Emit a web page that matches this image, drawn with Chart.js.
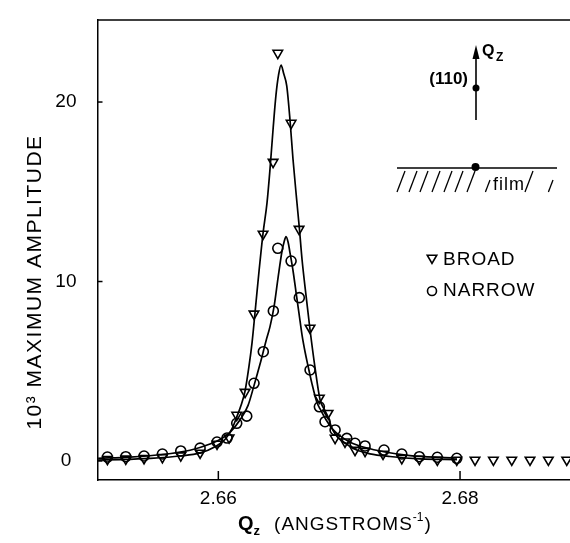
<!DOCTYPE html>
<html>
<head>
<meta charset="utf-8">
<script src="https://cdn.jsdelivr.net/npm/chart.js@4"></script>
<style>
  html, body { margin: 0; padding: 0; background: #fff; }
  #wrap { width: 570px; height: 543px; }
</style>
</head>
<body>
<div id="wrap"><canvas id="chart"></canvas></div>
<script>
// Measured amplitudes, BROAD (down triangles)
const broadQ = [2.65082, 2.65234, 2.65385, 2.65537, 2.65689, 2.65849, 2.65989, 2.66089, 2.66152, 2.66221,
  2.66295, 2.66370, 2.66453, 2.66492, 2.66602, 2.66668, 2.66759, 2.66836, 2.66908, 2.66966,
  2.67048, 2.67131, 2.67214, 2.67363, 2.67518, 2.67663, 2.67812, 2.67973, 2.68124, 2.68276,
  2.68428, 2.68579, 2.68731, 2.68883];
const broadAmp = [0.1, 0.12, 0.15, 0.2, 0.3, 0.45, 0.95, 1.3, 2.56, 3.84,
  8.2, 12.65, 16.65, 22.73, 18.83, 12.92, 7.41, 3.51, 2.66, 1.28,
  1.07, 0.61, 0.55, 0.39, 0.15, 0.11, 0.06, 0.06, 0.06, 0.06,
  0.06, 0.06, 0.06, 0.06];

// Measured amplitudes, NARROW (circles)
const narrowQ = [2.65082, 2.65234, 2.65385, 2.65537, 2.65689, 2.65849, 2.65989, 2.66072, 2.66152, 2.66235,
  2.66295, 2.66372, 2.66455, 2.66492, 2.66602, 2.66670, 2.66759, 2.66836, 2.66883, 2.66966,
  2.67063, 2.67131, 2.67214, 2.67371, 2.67518, 2.67663, 2.67812, 2.67973];
const narrowAmp = [0.22, 0.24, 0.28, 0.39, 0.56, 0.72, 1.06, 1.28, 2.1, 2.5,
  4.33, 6.09, 8.36, 11.85, 11.14, 9.1, 5.07, 3.02, 2.19, 1.73,
  1.26, 0.99, 0.84, 0.61, 0.39, 0.24, 0.21, 0.15];

// Fitted curves
const broadFitQ = [2.65005, 2.65187, 2.65435, 2.65683, 2.65849, 2.65973, 2.66055, 2.66113, 2.66155, 2.66188,
  2.66221, 2.66254, 2.66279, 2.66304, 2.66337, 2.66370, 2.66403, 2.66428, 2.66453, 2.66477,
  2.66498, 2.66519, 2.66540, 2.66566, 2.66593, 2.66618, 2.66649, 2.66670, 2.66693, 2.66726,
  2.66759, 2.66800, 2.66842, 2.66875, 2.66908, 2.66941, 2.66991, 2.67048, 2.67131, 2.67255,
  2.67421, 2.67669, 2.67975];
const broadFitAmp = [0.05, 0.08, 0.15, 0.28, 0.45, 0.8, 1.2, 1.8, 2.5, 3.1,
  3.9, 5.3, 6.6, 8.3, 10.6, 12.7, 14.4, 16.3, 18.5, 20.4,
  21.5, 22.06, 21.6, 20.9, 19.0, 16.8, 14.5, 13.0, 11.2, 9.2,
  7.3, 5.2, 3.4, 2.9, 2.45, 1.8, 1.3, 1.0, 0.65, 0.4,
  0.25, 0.12, 0.08];
const narrowFitQ = [2.65005, 2.65269, 2.65518, 2.65766, 2.65931, 2.66014, 2.66097, 2.66180, 2.66246, 2.66295,
  2.66345, 2.66395, 2.66428, 2.66461, 2.66494, 2.66527, 2.66544, 2.66560, 2.66577, 2.66593,
  2.66618, 2.66643, 2.66668, 2.66693, 2.66717, 2.66742, 2.66775, 2.66814, 2.66842, 2.66891,
  2.66949, 2.67007, 2.67090, 2.67214, 2.67379, 2.67586, 2.67835, 2.67975];
const narrowFitAmp = [0.15, 0.22, 0.35, 0.6, 0.95, 1.2, 1.6, 2.3, 3.1, 4.2,
  5.4, 6.7, 7.5, 8.6, 10.2, 11.7, 12.2, 12.5, 12.2, 11.6,
  10.6, 9.4, 8.2, 7.0, 6.1, 5.3, 4.3, 3.3, 2.9, 2.3,
  1.75, 1.4, 1.05, 0.75, 0.5, 0.3, 0.2, 0.17];

const xTicks = [2.66, 2.68];
const yTicks = [0, 10, 20];
const legendLabels = ['BROAD', 'NARROW'];

const FONT = '"Liberation Sans", Arial, Helvetica, sans-serif';

function toPoints(xs, ys) {
  return xs.map((x, i) => ({ x: x, y: ys[i] }));
}

function triangleDown(ctx, x, y, r) {
  const h = r * Math.sqrt(3) / 2;
  ctx.beginPath();
  ctx.moveTo(x - h, y - r / 2);
  ctx.lineTo(x + h, y - r / 2);
  ctx.lineTo(x, y + r);
  ctx.closePath();
  ctx.stroke();
}

// Frame top, inward ticks, titles, legend and the little Qz / film sketch
const decorations = {
  id: 'decorations',
  beforeDraw(chart) {
    const ctx = chart.ctx;
    ctx.save();
    ctx.fillStyle = '#fff';
    ctx.fillRect(0, 0, chart.width, chart.height);
    ctx.restore();
  },
  afterDraw(chart) {
    const { ctx, chartArea, scales } = chart;
    ctx.save();
    ctx.strokeStyle = '#000';
    ctx.fillStyle = '#000';
    ctx.lineWidth = 1.5;

    ctx.beginPath();
    ctx.moveTo(chartArea.left, chartArea.top);
    ctx.lineTo(chartArea.right, chartArea.top);
    ctx.stroke();

    xTicks.forEach(v => {
      const px = scales.x.getPixelForValue(v);
      ctx.beginPath();
      ctx.moveTo(px, chartArea.bottom);
      ctx.lineTo(px, chartArea.bottom - 9);
      ctx.stroke();
    });
    yTicks.forEach(v => {
      const py = scales.y.getPixelForValue(v);
      ctx.beginPath();
      ctx.moveTo(chartArea.left, py);
      ctx.lineTo(chartArea.left + 5, py);
      ctx.stroke();
    });

    // y title
    ctx.save();
    ctx.translate(35, 282);
    ctx.rotate(-Math.PI / 2);
    ctx.font = '21px ' + FONT;
    ctx.letterSpacing = '1.5px';
    ctx.textAlign = 'center';
    ctx.textBaseline = 'middle';
    ctx.fillText('10\u00B3 MAXIMUM AMPLITUDE', 0, 0);
    ctx.restore();

    // x title: Qz (ANGSTROMS-1)
    ctx.save();
    ctx.textAlign = 'left';
    ctx.textBaseline = 'alphabetic';
    let tx = 238;
    const base = 530;
    ctx.font = 'bold 20px ' + FONT;
    ctx.fillText('Q', tx, base);
    tx += ctx.measureText('Q').width;
    ctx.font = 'bold 13px ' + FONT;
    ctx.fillText('z', tx, base + 5);
    tx += ctx.measureText('z').width + 14;
    ctx.font = '19px ' + FONT;
    ctx.letterSpacing = '1px';
    ctx.fillText('(ANGSTROMS', tx, base);
    tx += ctx.measureText('(ANGSTROMS').width;
    ctx.font = '12px ' + FONT;
    ctx.letterSpacing = '0px';
    ctx.fillText('-1', tx, base - 9);
    tx += ctx.measureText('-1').width + 1;
    ctx.font = '19px ' + FONT;
    ctx.fillText(')', tx, base);
    ctx.restore();

    // legend
    ctx.lineWidth = 1.6;
    triangleDown(ctx, 432, 258, 5.5);
    ctx.beginPath();
    ctx.arc(432, 291, 4.5, 0, Math.PI * 2);
    ctx.stroke();
    ctx.save();
    ctx.font = '19px ' + FONT;
    ctx.letterSpacing = '1px';
    ctx.textBaseline = 'middle';
    ctx.fillText(legendLabels[0], 443, 260);
    ctx.fillText(legendLabels[1], 443, 291);
    ctx.restore();

    // Qz arrow with (110) point
    ctx.lineWidth = 1.6;
    ctx.beginPath();
    ctx.moveTo(476, 120);
    ctx.lineTo(476, 56);
    ctx.stroke();
    ctx.beginPath();
    ctx.moveTo(476, 45);
    ctx.lineTo(472.5, 59);
    ctx.lineTo(479.5, 59);
    ctx.closePath();
    ctx.fill();
    ctx.beginPath();
    ctx.arc(476, 88, 3.5, 0, Math.PI * 2);
    ctx.fill();
    ctx.save();
    ctx.font = 'bold 17px ' + FONT;
    ctx.textAlign = 'right';
    ctx.textBaseline = 'middle';
    ctx.fillText('(110)', 468, 79);
    ctx.textAlign = 'left';
    ctx.textBaseline = 'alphabetic';
    ctx.font = 'bold 16px ' + FONT;
    ctx.fillText('Q', 482, 56);
    ctx.font = 'bold 12px ' + FONT;
    ctx.fillText('Z', 496, 61);
    ctx.restore();

    // film surface with hatching
    ctx.beginPath();
    ctx.moveTo(397, 168);
    ctx.lineTo(557, 168);
    ctx.stroke();
    ctx.beginPath();
    ctx.arc(475.5, 167, 4, 0, Math.PI * 2);
    ctx.fill();
    ctx.lineWidth = 1.3;
    [405, 417, 428, 440, 452, 463, 475, 533].forEach(hx => {
      ctx.beginPath();
      ctx.moveTo(hx, 171);
      ctx.lineTo(hx - 8, 192);
      ctx.stroke();
    });
    [[490, 180], [553, 180]].forEach(([hx, hy]) => {
      ctx.beginPath();
      ctx.moveTo(hx, hy);
      ctx.lineTo(hx - 4.6, 192);
      ctx.stroke();
    });
    ctx.save();
    ctx.font = '18px ' + FONT;
    ctx.letterSpacing = '1px';
    ctx.fillText('film', 493, 190);
    ctx.restore();

    ctx.restore();
  }
};

new Chart(document.getElementById('chart'), {
  type: 'scatter',
  data: {
    datasets: [
      {
        label: 'BROAD fit',
        data: toPoints(broadFitQ, broadFitAmp),
        showLine: true,
        borderColor: '#000',
        borderWidth: 1.7,
        pointRadius: 0,
        cubicInterpolationMode: 'monotone'
      },
      {
        label: 'NARROW fit',
        data: toPoints(narrowFitQ, narrowFitAmp),
        showLine: true,
        borderColor: '#000',
        borderWidth: 1.7,
        pointRadius: 0,
        cubicInterpolationMode: 'monotone'
      },
      {
        label: legendLabels[0],
        data: toPoints(broadQ, broadAmp),
        pointStyle: 'triangle',
        rotation: 180,
        pointRadius: 5.5,
        borderColor: '#000',
        borderWidth: 1.6,
        backgroundColor: 'rgba(255,255,255,0)'
      },
      {
        label: legendLabels[1],
        data: toPoints(narrowQ, narrowAmp),
        pointStyle: 'circle',
        pointRadius: 5,
        borderColor: '#000',
        borderWidth: 1.6,
        backgroundColor: 'rgba(255,255,255,0)'
      }
    ]
  },
  options: {
    responsive: true,
    maintainAspectRatio: false,
    animation: false,
    layout: { autoPadding: false, padding: { top: 20, right: 0, left: 0, bottom: 0 } },
    plugins: {
      legend: { display: false },
      tooltip: { enabled: false }
    },
    scales: {
      x: {
        type: 'linear',
        min: 2.65,
        max: 2.6891,
        afterBuildTicks: scale => { scale.ticks = xTicks.map(v => ({ value: v })); },
        afterFit: scale => {
          scale.height = 63;
          scale.paddingLeft = 0;
          scale.paddingRight = 0;
        },
        grid: { display: false },
        border: { display: true, color: '#000', width: 1.5 },
        ticks: {
          color: '#000',
          font: { family: FONT, size: 19 },
          padding: -1,
          maxRotation: 0,
          callback: v => v.toFixed(2)
        }
      },
      y: {
        type: 'linear',
        min: -1.058,
        max: 24.57,
        afterBuildTicks: scale => { scale.ticks = yTicks.map(v => ({ value: v })); },
        afterFit: scale => {
          scale.width = 97.5;
          scale.paddingTop = 0;
          scale.paddingBottom = 0;
        },
        grid: { display: false },
        border: { display: true, color: '#000', width: 1.5 },
        ticks: {
          color: '#000',
          font: { family: FONT, size: 19 },
          padding: 13,
          crossAlign: 'center',
          callback: v => String(v)
        }
      }
    }
  },
  plugins: [decorations]
});
</script>
</body>
</html>
